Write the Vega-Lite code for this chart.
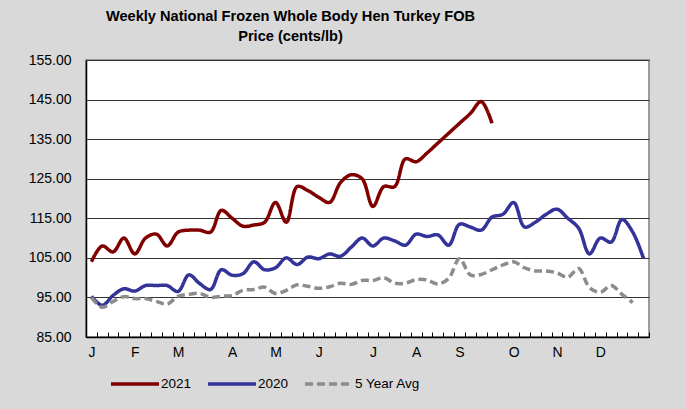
{
  "$schema": "https://vega.github.io/schema/vega-lite/v6.json",
  "width": 563,
  "height": 277,
  "autosize": {"type": "none"},
  "padding": {"left": 86, "top": 60, "right": 37, "bottom": 72},
  "background": "#D9D9D9",
  "config": {
    "view": {"fill": "white", "stroke": "#808080", "strokeWidth": 1.5},
    "font": "Liberation Sans",
    "axis": {"labelFont": "Liberation Sans", "labelFontSize": 14, "labelColor": "black", "domainColor": "black", "domainWidth": 1.5, "tickColor": "black"}
  },
  "title": {
    "text": ["Weekly National Frozen Whole Body Hen Turkey FOB", "Price (cents/lb)"],
    "font": "Liberation Sans",
    "fontSize": 14.6,
    "fontWeight": "bold",
    "color": "black",
    "anchor": "middle",
    "frame": "group",
    "dx": -77,
    "offset": 9,
    "lineHeight": 20.5
  },
  "data": {
    "values": [
      {"week": 1, "series": "2021", "value": 104},
      {"week": 2, "series": "2021", "value": 108},
      {"week": 3, "series": "2021", "value": 106.5},
      {"week": 4, "series": "2021", "value": 110},
      {"week": 5, "series": "2021", "value": 106},
      {"week": 6, "series": "2021", "value": 110},
      {"week": 7, "series": "2021", "value": 111},
      {"week": 8, "series": "2021", "value": 108},
      {"week": 9, "series": "2021", "value": 111.5},
      {"week": 10, "series": "2021", "value": 112},
      {"week": 11, "series": "2021", "value": 112},
      {"week": 12, "series": "2021", "value": 111.5},
      {"week": 13, "series": "2021", "value": 117},
      {"week": 14, "series": "2021", "value": 115},
      {"week": 15, "series": "2021", "value": 113},
      {"week": 16, "series": "2021", "value": 113.3},
      {"week": 17, "series": "2021", "value": 114},
      {"week": 18, "series": "2021", "value": 119},
      {"week": 19, "series": "2021", "value": 114},
      {"week": 20, "series": "2021", "value": 123},
      {"week": 21, "series": "2021", "value": 122},
      {"week": 22, "series": "2021", "value": 120.3},
      {"week": 23, "series": "2021", "value": 119},
      {"week": 24, "series": "2021", "value": 124},
      {"week": 25, "series": "2021", "value": 126},
      {"week": 26, "series": "2021", "value": 125},
      {"week": 27, "series": "2021", "value": 118},
      {"week": 28, "series": "2021", "value": 123},
      {"week": 29, "series": "2021", "value": 123},
      {"week": 30, "series": "2021", "value": 130},
      {"week": 31, "series": "2021", "value": 129.3},
      {"week": 32, "series": "2021", "value": 131.5},
      {"week": 33, "series": "2021", "value": 134},
      {"week": 34, "series": "2021", "value": 136.5},
      {"week": 35, "series": "2021", "value": 139},
      {"week": 36, "series": "2021", "value": 141.5},
      {"week": 37, "series": "2021", "value": 144.5},
      {"week": 38, "series": "2021", "value": 139},
      {"week": 1, "series": "2020", "value": 95.3},
      {"week": 2, "series": "2020", "value": 93},
      {"week": 3, "series": "2020", "value": 95.5},
      {"week": 4, "series": "2020", "value": 97.2},
      {"week": 5, "series": "2020", "value": 96.6},
      {"week": 6, "series": "2020", "value": 98},
      {"week": 7, "series": "2020", "value": 98},
      {"week": 8, "series": "2020", "value": 98},
      {"week": 9, "series": "2020", "value": 96.5},
      {"week": 10, "series": "2020", "value": 100.7},
      {"week": 11, "series": "2020", "value": 98.5},
      {"week": 12, "series": "2020", "value": 97},
      {"week": 13, "series": "2020", "value": 102},
      {"week": 14, "series": "2020", "value": 100.6},
      {"week": 15, "series": "2020", "value": 101},
      {"week": 16, "series": "2020", "value": 104},
      {"week": 17, "series": "2020", "value": 102},
      {"week": 18, "series": "2020", "value": 102.5},
      {"week": 19, "series": "2020", "value": 105},
      {"week": 20, "series": "2020", "value": 103.3},
      {"week": 21, "series": "2020", "value": 105.2},
      {"week": 22, "series": "2020", "value": 104.8},
      {"week": 23, "series": "2020", "value": 106},
      {"week": 24, "series": "2020", "value": 105.4},
      {"week": 25, "series": "2020", "value": 107.7},
      {"week": 26, "series": "2020", "value": 110},
      {"week": 27, "series": "2020", "value": 108},
      {"week": 28, "series": "2020", "value": 110},
      {"week": 29, "series": "2020", "value": 109.3},
      {"week": 30, "series": "2020", "value": 108.2},
      {"week": 31, "series": "2020", "value": 111},
      {"week": 32, "series": "2020", "value": 110.4},
      {"week": 33, "series": "2020", "value": 110.8},
      {"week": 34, "series": "2020", "value": 108.2},
      {"week": 35, "series": "2020", "value": 113.5},
      {"week": 36, "series": "2020", "value": 112.8},
      {"week": 37, "series": "2020", "value": 112},
      {"week": 38, "series": "2020", "value": 115.3},
      {"week": 39, "series": "2020", "value": 116},
      {"week": 40, "series": "2020", "value": 119},
      {"week": 41, "series": "2020", "value": 112.8},
      {"week": 42, "series": "2020", "value": 114},
      {"week": 43, "series": "2020", "value": 116},
      {"week": 44, "series": "2020", "value": 117.3},
      {"week": 45, "series": "2020", "value": 115},
      {"week": 46, "series": "2020", "value": 112.5},
      {"week": 47, "series": "2020", "value": 106},
      {"week": 48, "series": "2020", "value": 110},
      {"week": 49, "series": "2020", "value": 109},
      {"week": 50, "series": "2020", "value": 114.7},
      {"week": 51, "series": "2020", "value": 111.5},
      {"week": 52, "series": "2020", "value": 104.8},
      {"week": 1, "series": "5 Year Avg", "value": 95},
      {"week": 2, "series": "5 Year Avg", "value": 92.5},
      {"week": 3, "series": "5 Year Avg", "value": 94},
      {"week": 4, "series": "5 Year Avg", "value": 95.2},
      {"week": 5, "series": "5 Year Avg", "value": 94.7},
      {"week": 6, "series": "5 Year Avg", "value": 94.7},
      {"week": 7, "series": "5 Year Avg", "value": 94},
      {"week": 8, "series": "5 Year Avg", "value": 93.3},
      {"week": 9, "series": "5 Year Avg", "value": 95.3},
      {"week": 10, "series": "5 Year Avg", "value": 95.8},
      {"week": 11, "series": "5 Year Avg", "value": 96},
      {"week": 12, "series": "5 Year Avg", "value": 95},
      {"week": 13, "series": "5 Year Avg", "value": 95.3},
      {"week": 14, "series": "5 Year Avg", "value": 95.5},
      {"week": 15, "series": "5 Year Avg", "value": 96.8},
      {"week": 16, "series": "5 Year Avg", "value": 97},
      {"week": 17, "series": "5 Year Avg", "value": 97.6},
      {"week": 18, "series": "5 Year Avg", "value": 96},
      {"week": 19, "series": "5 Year Avg", "value": 96.8},
      {"week": 20, "series": "5 Year Avg", "value": 98.2},
      {"week": 21, "series": "5 Year Avg", "value": 97.8},
      {"week": 22, "series": "5 Year Avg", "value": 97.3},
      {"week": 23, "series": "5 Year Avg", "value": 97.7},
      {"week": 24, "series": "5 Year Avg", "value": 98.6},
      {"week": 25, "series": "5 Year Avg", "value": 98.3},
      {"week": 26, "series": "5 Year Avg", "value": 99.3},
      {"week": 27, "series": "5 Year Avg", "value": 99.3},
      {"week": 28, "series": "5 Year Avg", "value": 100},
      {"week": 29, "series": "5 Year Avg", "value": 98.6},
      {"week": 30, "series": "5 Year Avg", "value": 98.6},
      {"week": 31, "series": "5 Year Avg", "value": 99.5},
      {"week": 32, "series": "5 Year Avg", "value": 99.4},
      {"week": 33, "series": "5 Year Avg", "value": 98.4},
      {"week": 34, "series": "5 Year Avg", "value": 99.8},
      {"week": 35, "series": "5 Year Avg", "value": 104.8},
      {"week": 36, "series": "5 Year Avg", "value": 100.7},
      {"week": 37, "series": "5 Year Avg", "value": 100.8},
      {"week": 38, "series": "5 Year Avg", "value": 102},
      {"week": 39, "series": "5 Year Avg", "value": 103.2},
      {"week": 40, "series": "5 Year Avg", "value": 104},
      {"week": 41, "series": "5 Year Avg", "value": 102.5},
      {"week": 42, "series": "5 Year Avg", "value": 101.7},
      {"week": 43, "series": "5 Year Avg", "value": 101.7},
      {"week": 44, "series": "5 Year Avg", "value": 101.2},
      {"week": 45, "series": "5 Year Avg", "value": 100.1},
      {"week": 46, "series": "5 Year Avg", "value": 102.3},
      {"week": 47, "series": "5 Year Avg", "value": 97.5},
      {"week": 48, "series": "5 Year Avg", "value": 96.3},
      {"week": 49, "series": "5 Year Avg", "value": 98},
      {"week": 50, "series": "5 Year Avg", "value": 95.8},
      {"week": 51, "series": "5 Year Avg", "value": 93.7}
    ]
  },
  "mark": {"type": "line", "interpolate": "catmull-rom", "strokeWidth": 3.5},
  "encoding": {
    "x": {
      "field": "week",
      "type": "quantitative",
      "scale": {"domain": [0.5, 52.5], "nice": false, "zero": false},
      "axis": {
        "title": null,
        "grid": false,
        "values": [0.5,1.5,2.5,3.5,4.5,5.5,6.5,7.5,8.5,9.5,10.5,11.5,12.5,13.5,14.5,15.5,16.5,17.5,18.5,19.5,20.5,21.5,22.5,23.5,24.5,25.5,26.5,27.5,28.5,29.5,30.5,31.5,32.5,33.5,34.5,35.5,36.5,37.5,38.5,39.5,40.5,41.5,42.5,43.5,44.5,45.5,46.5,47.5,48.5,49.5,50.5,51.5,52.5],
        "labelExpr": "datum.value==0.5?'J':datum.value==4.5?'F':datum.value==8.5?'M':datum.value==13.5?'A':datum.value==17.5?'M':datum.value==21.5?'J':datum.value==26.5?'J':datum.value==30.5?'A':datum.value==34.5?'S':datum.value==39.5?'O':datum.value==43.5?'N':datum.value==47.5?'D':''",
        "labelOffset": 5.4,
        "labelFlush": false,
        "labelOverlap": false,
        "labelAlign": "center",
        "tickSize": -5,
        "tickWidth": 1,
        "labelPadding": 13
      }
    },
    "y": {
      "field": "value",
      "type": "quantitative",
      "scale": {"domain": [85, 155], "nice": false, "zero": false},
      "axis": {
        "title": null,
        "values": [85, 95, 105, 115, 125, 135, 145, 155],
        "format": ".2f",
        "ticks": false,
        "labelPadding": 15,
        "gridColor": "#333333",
        "gridWidth": 1,
        "gridOpacity": 1
      }
    },
    "color": {
      "field": "series",
      "type": "nominal",
      "sort": ["2021", "2020", "5 Year Avg"],
      "scale": {"domain": ["2021", "2020", "5 Year Avg"], "range": ["#800000", "#333399", "#8C8C8C"]},
      "legend": {
        "title": null,
        "orient": "none",
        "direction": "horizontal",
        "legendX": 23,
        "legendY": 298,
        "symbolType": "stroke",
        "symbolSize": 2304,
        "symbolStrokeWidth": 3.5,
        "labelFont": "Liberation Sans",
        "labelFontSize": 13.5,
        "labelColor": "black",
        "labelOffset": 0,
        "columnPadding": 9
      }
    },
    "strokeDash": {
      "field": "series",
      "type": "nominal",
      "sort": ["2021", "2020", "5 Year Avg"],
      "scale": {"domain": ["2021", "2020", "5 Year Avg"], "range": [[1, 0], [1, 0], [8, 4]]},
      "legend": {
        "title": null,
        "orient": "none",
        "direction": "horizontal",
        "legendX": 23,
        "legendY": 298,
        "symbolType": "stroke",
        "symbolSize": 2304,
        "symbolStrokeWidth": 3.5,
        "labelFont": "Liberation Sans",
        "labelFontSize": 13.5,
        "labelColor": "black",
        "labelOffset": 0,
        "columnPadding": 9
      }
    }
  }
}
